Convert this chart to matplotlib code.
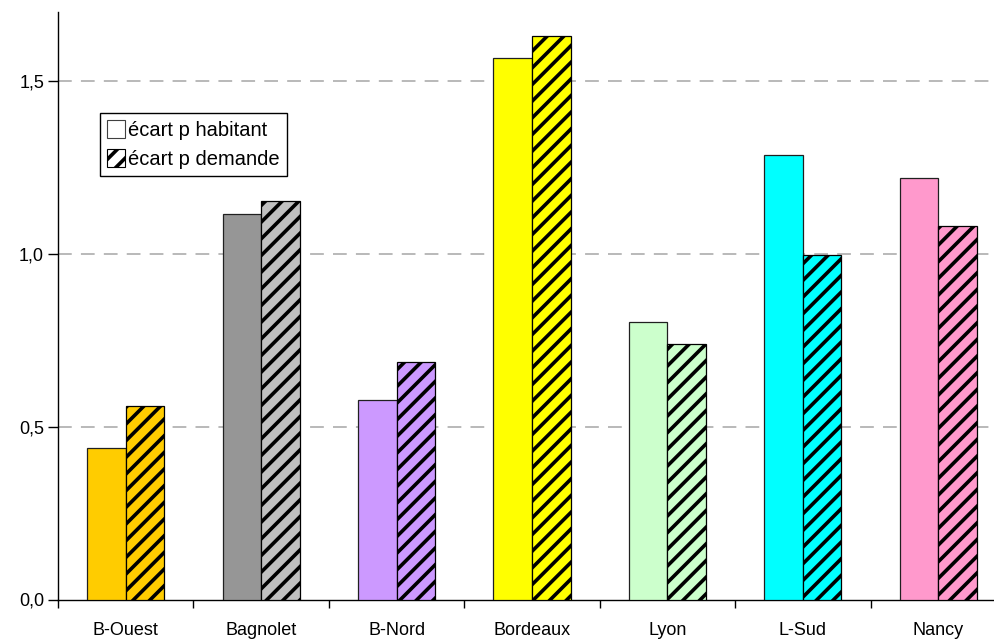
import numpy as np
import matplotlib.pyplot as plt
from matplotlib.patches import Patch

plt.rcParams['font.family'] = ['Liberation Sans', 'DejaVu Sans']
plt.rcParams['hatch.linewidth'] = 2.6

# data
categories = ["B-Ouest", "Bagnolet", "B-Nord", "Bordeaux", "Lyon", "L-Sud", "Nancy"]
ecart_habitant = [0.438, 1.116, 0.577, 1.566, 0.802, 1.285, 1.221]
ecart_demande = [0.560, 1.153, 0.686, 1.630, 0.740, 0.996, 1.080]
colors_habitant = ["#FFCC00", "#969696", "#CC99FF", "#FFFF00", "#CCFFCC", "#00FFFF", "#FF99CC"]
colors_demande = ["#FFCC00", "#C0C0C0", "#CC99FF", "#FFFF00", "#CCFFCC", "#00FFFF", "#FF99CC"]
yticks = [0.0, 0.5, 1.0, 1.5]
ytick_labels = ["0,0", "0,5", "1,0", "1,5"]
legend_labels = ["écart p habitant", "écart p demande"]

fig = plt.figure(figsize=(9.95, 6.42), dpi=100)
ax = fig.add_axes([58 / 995, 42.5 / 642, (1006 - 58) / 995, 587.5 / 642])

x = np.arange(len(categories))
w = 0.285
ax.bar(x - w / 2, ecart_habitant, w, color=colors_habitant,
       edgecolor="#202020", linewidth=0.9, zorder=3)
ax.bar(x + w / 2, ecart_demande, w, color=colors_demande,
       edgecolor="black", linewidth=0.9, hatch="//", zorder=3)

ax.set_xlim(-0.5, len(categories) - 0.5)
ax.set_ylim(0, 1.7)

ax.set_yticks(yticks)
ax.set_yticklabels(ytick_labels, fontsize=13)
ax.tick_params(axis="y", direction="out", length=7, width=1, pad=3)

ax.set_xticks(x)
ax.set_xticklabels(categories, fontsize=13)
ax.tick_params(axis="x", which="major", length=0, pad=16.5)
ax.set_xticks(np.arange(len(categories) + 1) - 0.5, minor=True)
ax.tick_params(axis="x", which="minor", direction="out", length=5.5, width=1)

for y in yticks[1:]:
    ax.axhline(y, color="#A6A6A6", linewidth=1.1, dashes=(9, 6), zorder=1)

for s in ["top", "right"]:
    ax.spines[s].set_visible(False)
ax.spines["left"].set_linewidth(1)
ax.spines["bottom"].set_linewidth(1)

handles = [Patch(facecolor="white", edgecolor="#404040", linewidth=0.8),
           Patch(facecolor="white", edgecolor="black", linewidth=0.8, hatch="//")]
leg = fig.legend(handles, legend_labels, loc="upper left",
                 bbox_to_anchor=(100 / 995, 1 - 113 / 642), bbox_transform=fig.transFigure,
                 borderaxespad=0, fancybox=False, edgecolor="black", framealpha=1,
                 fontsize=14.5, handlelength=0.9, handleheight=1.0, handletextpad=0.15,
                 borderpad=0.35, labelspacing=0.45)
leg.get_frame().set_linewidth(1)

fig.savefig("out.png", dpi=100)
